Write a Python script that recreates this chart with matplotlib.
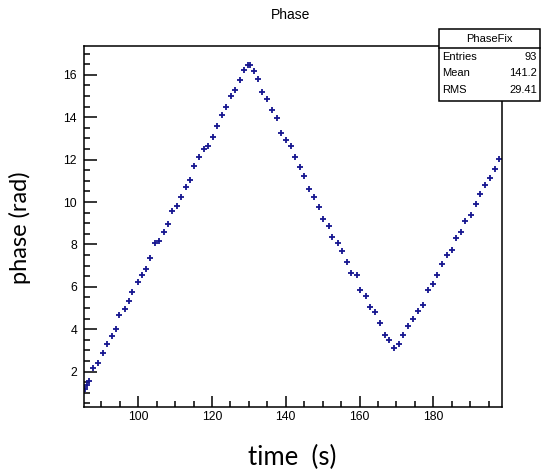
import matplotlib
matplotlib.use("Agg")
import matplotlib.pyplot as plt
from matplotlib.patches import Rectangle
from matplotlib.ticker import MultipleLocator

# phase vs time
time_s = [85.63, 85.95, 86.71, 87.80, 89.15, 90.35, 91.43, 92.79, 93.82, 94.85,
          96.39, 97.48, 98.37, 99.78, 100.92, 101.95, 103.17, 104.53, 105.61, 106.97,
          107.97, 109.14, 110.58, 111.58, 112.94, 114.02, 115.19, 116.54, 117.82, 118.98,
          120.18, 121.34, 122.78, 123.70, 125.14, 126.22, 127.58, 128.75, 129.69, 130.37,
          131.38, 132.38, 133.63, 134.98, 136.26, 137.48, 138.78, 140.05, 141.33, 142.58,
          143.85, 145.02, 146.37, 147.57, 148.92, 150.17, 151.72, 152.61, 154.07, 155.24,
          156.68, 157.68, 159.23, 160.20, 161.75, 162.92, 164.27, 165.55, 166.82, 168.07,
          169.34, 170.70, 171.86, 173.06, 174.58, 175.93, 177.13, 178.56, 179.84, 181.08,
          182.36, 183.63, 184.99, 186.16, 187.59, 188.73, 190.14, 191.66, 192.66, 194.10,
          195.29, 196.73, 197.90]
phase_rad = [1.18, 1.37, 1.54, 2.15, 2.40, 2.86, 3.30, 3.66, 4.01, 4.69,
             4.97, 5.33, 5.76, 6.22, 6.56, 6.83, 7.36, 8.06, 8.17, 8.58,
             8.95, 9.57, 9.83, 10.26, 10.71, 11.06, 11.68, 12.12, 12.48, 12.64,
             13.09, 13.61, 14.09, 14.47, 15.02, 15.29, 15.74, 16.25, 16.45, 16.48,
             16.18, 15.81, 15.21, 14.85, 14.33, 13.97, 13.27, 12.92, 12.63, 12.11,
             11.67, 11.23, 10.63, 10.25, 9.75, 9.22, 8.87, 8.34, 8.06, 7.71,
             7.17, 6.67, 6.56, 5.85, 5.58, 5.07, 4.80, 4.28, 3.75, 3.48,
             3.10, 3.31, 3.75, 4.17, 4.47, 4.88, 5.15, 5.85, 6.14, 6.56,
             7.09, 7.52, 7.76, 8.32, 8.60, 9.12, 9.38, 9.91, 10.37, 10.81,
             11.14, 11.58, 12.02]

stat_names = ["Entries", "Mean", "RMS"]
stat_values = ["93", "141.2", "29.41"]

W, H = 541, 474
fig = plt.figure(figsize=(W / 100, H / 100), dpi=100)
ax = fig.add_axes([84 / W, 1 - 407.3 / H, (501.7 - 84) / W, (407.3 - 46) / H])

ax.plot(time_s, phase_rad, ls="none", marker="+", ms=5, mew=1.3, color="#161690")

ax.set_xlim(85.27, 198.55)
ax.set_ylim(0.32, 17.36)
ax.xaxis.set_major_locator(MultipleLocator(20))
ax.xaxis.set_minor_locator(MultipleLocator(5))
ax.yaxis.set_major_locator(MultipleLocator(2))
ax.yaxis.set_minor_locator(MultipleLocator(0.5))
ax.tick_params(which="both", direction="in", top=False, right=False, width=1.1,
               labelsize=8.8, color="black")
ax.tick_params(axis="x", which="major", length=8, pad=3)
ax.tick_params(axis="x", which="minor", length=4)
ax.tick_params(axis="y", which="major", length=9, pad=5)
ax.tick_params(axis="y", which="minor", length=4.5)
for lab in ax.get_xticklabels() + ax.get_yticklabels():
    lab.set_family("Liberation Sans")
for sp in ax.spines.values():
    sp.set_linewidth(1.1)

fig.text(291 / W, 1 - 15 / H, "Phase", ha="center", va="center",
         fontsize=10, family="Liberation Sans")
fig.text(292 / W, 1 - 457 / H, "time  (s)", ha="center", va="center",
         fontsize=18.5, family="Lato")
fig.text(20 / W, 1 - 228 / H, "phase (rad)", ha="center", va="center",
         rotation=90, fontsize=17, family="Lato")

# stats box
bx0, bx1, by0, by1 = 439 / W, 540 / W, 1 - 101 / H, 1 - 29 / H
fig.patches.append(Rectangle((bx0, by0), bx1 - bx0, by1 - by0, transform=fig.transFigure,
                             facecolor="white", edgecolor="black", lw=1.1, zorder=5))
fig.add_artist(plt.Line2D([bx0, bx1], [1 - 48 / H] * 2, transform=fig.transFigure,
                          color="black", lw=1.1, zorder=6))
fig.text((bx0 + bx1) / 2, 1 - 38.5 / H, "PhaseFix", ha="center", va="center",
         fontsize=8, family="Liberation Sans", zorder=7)
for i, (n, v) in enumerate(zip(stat_names, stat_values)):
    yy = 1 - (57 + 16.3 * i) / H
    fig.text(442 / W, yy, n, ha="left", va="center", fontsize=8,
             family="Liberation Sans", zorder=7)
    fig.text(537 / W, yy, v, ha="right", va="center", fontsize=8,
             family="Liberation Sans", zorder=7)

fig.savefig("out.png", dpi=100)
